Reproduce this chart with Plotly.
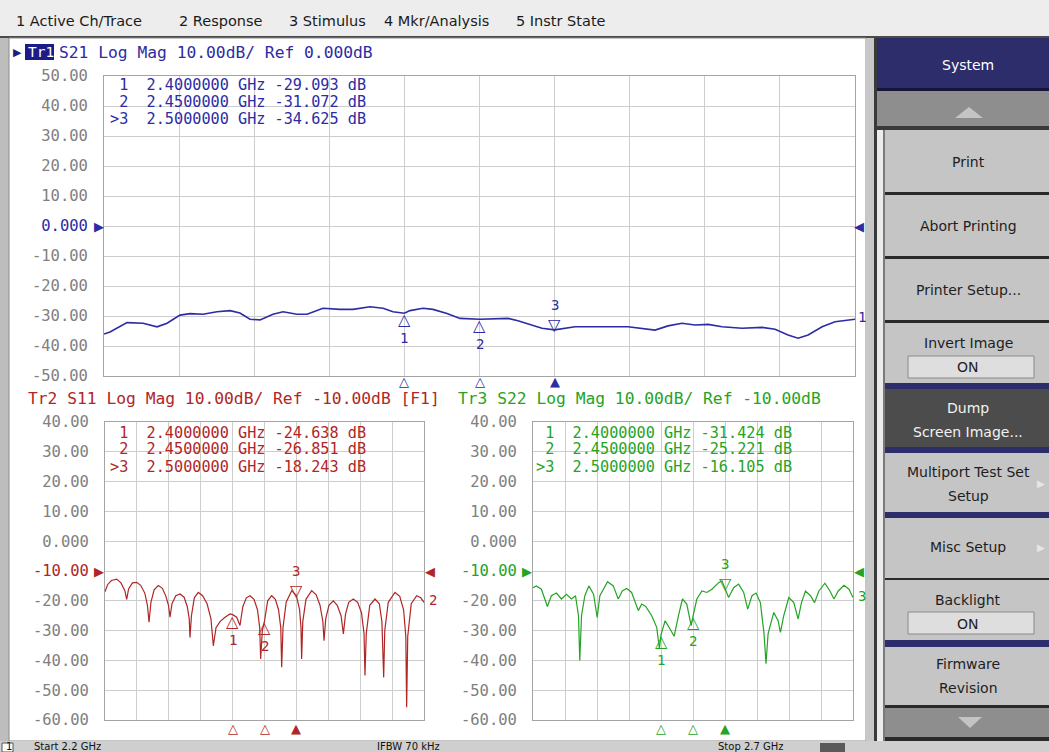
import plotly.graph_objects as go

# ---------------- data ----------------
start_ghz, stop_ghz, div_ghz = 2.2, 2.7, 0.05

freq_s21 = [2.2000, 2.2040, 2.2153, 2.2260, 2.2353, 2.2420, 2.2506, 2.2573, 2.2659, 2.2752,
            2.2839, 2.2905, 2.2972, 2.3039, 2.3125, 2.3192, 2.3285, 2.3352, 2.3458, 2.3571,
            2.3658, 2.3771, 2.3858, 2.3924, 2.4000, 2.4037, 2.4124, 2.4190, 2.4284, 2.4370,
            2.4500, 2.4690, 2.4756, 2.4916, 2.5000, 2.5136, 2.5489, 2.5582, 2.5669, 2.5755,
            2.5848, 2.5935, 2.6022, 2.6115, 2.6248, 2.6381, 2.6468, 2.6554, 2.6621, 2.6688,
            2.6781, 2.6867, 2.7000]
s21_db = [-36.0, -35.3, -32.2, -32.4, -33.6, -32.4, -29.7, -29.2, -29.4, -28.6,
          -28.2, -29.0, -31.1, -31.3, -29.4, -28.6, -29.4, -29.4, -27.4, -27.8,
          -27.8, -26.9, -27.4, -28.6, -29.093, -28.2, -27.4, -27.8, -29.2, -30.8,
          -31.072, -30.8, -31.6, -34.1, -34.625, -33.6, -33.6, -34.1, -34.7, -33.3,
          -32.4, -33.0, -32.8, -33.6, -34.1, -33.8, -34.4, -36.3, -37.4, -36.3,
          -33.6, -31.9, -31.1]

# S11 (GHz, dB)
s11_points = [
    (2.2000, -17.0), (2.2040, -14.6), (2.2100, -13.2), (2.2183, -12.7), (2.2250, -14.0),
    (2.2310, -16.5), (2.2340, -19.5), (2.2370, -16.0), (2.2430, -14.0), (2.2496, -13.8),
    (2.2560, -14.8), (2.2625, -17.5), (2.2665, -21.5), (2.2690, -27.2), (2.2720, -20.5),
    (2.2770, -16.3), (2.2836, -14.9), (2.2900, -15.8), (2.2955, -18.5), (2.2995, -21.5),
    (2.3019, -25.5), (2.3050, -21.0), (2.3110, -18.3), (2.3176, -17.7), (2.3240, -18.8),
    (2.3290, -22.0), (2.3320, -26.0), (2.3332, -32.3), (2.3355, -25.0), (2.3400, -19.0),
    (2.3463, -17.2), (2.3530, -18.3), (2.3600, -21.0), (2.3660, -26.0), (2.3698, -35.1),
    (2.3740, -29.0), (2.3803, -27.0), (2.3881, -25.5), (2.3959, -24.4), (2.4000, -24.638),
    (2.4064, -25.5), (2.4116, -28.3), (2.4160, -22.0), (2.4215, -19.0), (2.4273, -18.3),
    (2.4335, -19.5), (2.4390, -23.0), (2.4425, -29.0), (2.4440, -39.5), (2.4466, -30.0),
    (2.4500, -26.851), (2.4550, -20.0), (2.4612, -18.3), (2.4670, -19.5), (2.4720, -23.0),
    (2.4755, -29.0), (2.4769, -42.3), (2.4790, -29.0), (2.4840, -20.5), (2.4926, -16.6),
    (2.5000, -18.243), (2.5050, -23.0), (2.5072, -29.0), (2.5082, -39.5), (2.5100, -27.0),
    (2.5150, -19.5), (2.5239, -16.6), (2.5310, -18.0), (2.5370, -21.5), (2.5415, -27.0),
    (2.5433, -33.4), (2.5460, -26.0), (2.5510, -21.5), (2.5579, -20.0), (2.5640, -21.5),
    (2.5700, -25.0), (2.5736, -31.1), (2.5770, -24.5), (2.5820, -20.5), (2.5892, -19.4),
    (2.5960, -20.5), (2.6020, -24.0), (2.6060, -31.0), (2.6075, -45.1), (2.6095, -31.0),
    (2.6150, -21.5), (2.6232, -19.4), (2.6300, -21.0), (2.6340, -27.0), (2.6368, -45.7),
    (2.6385, -30.0), (2.6440, -20.5), (2.6545, -17.2), (2.6620, -18.5), (2.6680, -23.0),
    (2.6715, -32.0), (2.6728, -55.7), (2.6745, -32.0), (2.6800, -21.0), (2.6885, -18.3),
    (2.6950, -19.0), (2.7000, -20.5),
]
freq_s11 = [p[0] for p in s11_points]
s11_db = [p[1] for p in s11_points]

freq_s22 = [2.2000, 2.2052, 2.2131, 2.2225, 2.2287, 2.2366, 2.2444, 2.2522, 2.2601, 2.2664,
            2.2711, 2.2731, 2.2758, 2.2810, 2.2873, 2.2946, 2.3003, 2.3045, 2.3165, 2.3254,
            2.3332, 2.3395, 2.3463, 2.3541, 2.3646, 2.3698, 2.3761, 2.3855, 2.3933, 2.3975,
            2.4000, 2.4064, 2.4126, 2.4205, 2.4273, 2.4335, 2.4403, 2.4471, 2.4500, 2.4560,
            2.4639, 2.4717, 2.4795, 2.4900, 2.4952, 2.5000, 2.5056, 2.5135, 2.5213, 2.5292,
            2.5354, 2.5422, 2.5485, 2.5553, 2.5610, 2.5641, 2.5673, 2.5762, 2.5830, 2.5866,
            2.5918, 2.5997, 2.6075, 2.6143, 2.6195, 2.6258, 2.6336, 2.6399, 2.6467, 2.6561,
            2.6640, 2.6702, 2.6770, 2.6859, 2.6937, 2.7000]
s22_db = [-15.6, -15.0, -16.1, -21.9, -18.3, -17.4, -19.4, -17.8, -19.4, -18.3,
          -25.0, -40.0, -25.0, -18.3, -15.0, -17.8, -25.6, -18.3, -13.6, -15.0,
          -19.4, -16.7, -15.9, -17.2, -23.3, -21.1, -21.9, -25.0, -28.9, -36.1,
          -31.424, -26.7, -28.9, -31.9, -25.0, -19.4, -21.1, -28.3, -25.221, -19.4,
          -16.7, -17.2, -16.1, -13.9, -13.3, -16.105, -18.9, -15.6, -14.4, -17.2,
          -22.8, -18.3, -17.4, -20.6, -31.1, -41.1, -31.1, -23.9, -26.7, -30.6,
          -25.0, -18.9, -20.6, -26.1, -20.6, -16.7, -18.3, -20.6, -16.7, -14.1,
          -16.7, -19.4, -16.7, -14.8, -16.1, -18.9]

marker_ghz = [2.40, 2.45, 2.50]
s21_marker_db = [-29.093, -31.072, -34.625]
s11_marker_db = [-24.638, -26.851, -18.243]
s22_marker_db = [-31.424, -25.221, -16.105]

top_tick_vals = [50, 40, 30, 20, 10, 0, -10, -20, -30, -40, -50]
top_tick_text = ["50.00", "40.00", "30.00", "20.00", "10.00", "0.000",
                 "-10.00", "-20.00", "-30.00", "-40.00", "-50.00"]
bot_tick_vals = [40, 30, 20, 10, 0, -10, -20, -30, -40, -50, -60]
bot_tick_text = ["40.00", "30.00", "20.00", "10.00", "0.000", "-10.00",
                 "-20.00", "-30.00", "-40.00", "-50.00", "-60.00"]
ref_top, ref_bot = 0, -10

menu_items = ["1 Active Ch/Trace", "2 Response", "3 Stimulus", "4 Mkr/Analysis", "5 Instr State"]
softkey_labels = ["System", "Print", "Abort Printing", "Printer Setup...", "Invert Image", "ON",
                  "Dump", "Screen Image...", "Multiport Test Set", "Setup", "Misc Setup",
                  "Backlight", "ON", "Firmware", "Revision"]
title_tr1 = "S21 Log Mag 10.00dB/ Ref 0.000dB"
title_tr2 = "Tr2 S11 Log Mag 10.00dB/ Ref -10.00dB [F1]"
title_tr3 = "Tr3 S22 Log Mag 10.00dB/ Ref -10.00dB"
status_items = ["1", "Start 2.2 GHz", "IFBW 70 kHz", "Stop 2.7 GHz"]

# ---------------- styling / layout helpers ----------------
W, H = 1049, 752
def X(p): return p / W
def Y(p): return 1 - p / H

MONO = "DejaVu Sans Mono"
SANS = "DejaVu Sans"
BLUE = "#2c2ca4"
RED = "#b02626"
GREEN = "#25a325"
GRID = "#cdcdcd"
TICKC = "#808080"
NAVY = "#2d2d6c"

shapes, anns = [], []

def rect(x0, y0, x1, y1, fill, lw=0, lc=None):
    shapes.append(dict(type="rect", xref="paper", yref="paper", x0=X(x0), x1=X(x1),
                       y0=Y(y1), y1=Y(y0), fillcolor=fill,
                       line=dict(width=lw, color=lc or fill), layer="below"))

def tri(pts, fill):
    p = "M " + " L ".join(f"{X(a):.5f},{Y(b):.5f}" for a, b in pts) + " Z"
    shapes.append(dict(type="path", xref="paper", yref="paper", path=p, fillcolor=fill,
                       line=dict(width=0), layer="below"))

def ann(text, x, y, size=15.5, color="#000", family=MONO, xanchor="left", yanchor="middle",
        xref="paper", yref="paper", **kw):
    xx = X(x) if xref == "paper" else x
    yy = Y(y) if yref == "paper" else y
    anns.append(dict(text=text, x=xx, y=yy, xref=xref, yref=yref, showarrow=False,
                     xanchor=xanchor, yanchor=yanchor,
                     font=dict(family=family, size=size, color=color), **kw))

# ---------------- chrome ----------------
rect(0, 0, W, 37, "#ededed")
rect(0, 36, W, 38, "#4a4a4a")
rect(0, 38, 9, 741, "#bdbdbd")
rect(9, 38, 866, 741, "#ffffff", 1, "#8a8a8a")
rect(866, 38, W, 741, "#c8c8c8")
rect(874, 38, 877, 741, "#3a3a3a")
rect(877, 130, 885, 741, "#ececec")
rect(883, 130, 885, 741, "#7a7a7a")
rect(0, 741, W, H, "#cfcfcf")

menu_x = [14, 177, 287, 382, 514]
for t, mx in zip(menu_items, menu_x):
    ann(t, mx, 21, size=14.5, color="#1a1a1a", family=SANS)

# softkey panel
rect(877, 38, W, 88, NAVY)
rect(877, 88, W, 91, "#16163a")
rect(877, 91, W, 126, "#8e8e8e")
tri([(955, 118), (983, 118), (969, 107)], "#c4c4c4")
rect(877, 126, W, 130, "#3a3a3a")
btns = [(130, 192, "#c5c5c5"), (195, 256, "#c5c5c5"), (259, 320, "#c5c5c5"),
        (323, 383, "#c5c5c5"), (389, 447, "#4c4c4c"), (453, 512, "#c5c5c5"),
        (518, 578, "#c5c5c5"), (580, 640, "#c5c5c5"), (647, 705, "#c5c5c5")]
seps = [(192, 195, "#2a2a2a"), (256, 259, "#2a2a2a"), (320, 323, "#2a2a2a"),
        (383, 389, NAVY), (447, 453, NAVY), (512, 518, NAVY), (578, 580, "#2a2a2a"),
        (640, 647, NAVY), (705, 708, "#2a2a2a"), (737, 741, "#2a2a2a")]
for a, b, c in btns:
    rect(885, a, W, b, c)
for a, b, c in seps:
    rect(885, a, W, b, c)
rect(885, 708, W, 737, "#8e8e8e")
tri([(958, 717), (982, 717), (970, 728)], "#c4c4c4")
rect(908, 356, 1034, 378, "#dedede", 1, "#8a8a8a")
rect(908, 612, 1034, 634, "#dedede", 1, "#8a8a8a")

sk_y = [65, 162, 226, 290, 343, 367, 408, 432, 472, 496, 547, 600, 624, 664, 688]
sk_c = ["#ffffff", "#1e1e1e", "#1e1e1e", "#1e1e1e", "#1e1e1e", "#1e1e1e", "#f2f2f2", "#f2f2f2",
        "#1e1e1e", "#1e1e1e", "#1e1e1e", "#1e1e1e", "#1e1e1e", "#1e1e1e", "#1e1e1e"]
for t, yy, c in zip(softkey_labels, sk_y, sk_c):
    ann(t, 968, yy, size=14, color=c, family=SANS, xanchor="center")
ann("▶", 1035, 484, size=10, color="#e6e6e6", family=SANS, xanchor="left")
ann("▶", 1035, 547, size=10, color="#e6e6e6", family=SANS, xanchor="left")

# status bar
rect(2, 743, 13, H, "#ffffff", 1, "#555555")
rect(820, 743, 845, H, "#5a5a5a")
st_x = [4, 32, 375, 716]
for t, sx in zip(status_items, st_x):
    ann(t, sx, 746.5, size=10, color="#111111", family=SANS, height=11)

# trace titles
ann("▶", 17, 52, size=11, color="#1c1c88", family=SANS, xanchor="center")
rect(25, 44, 54, 60, "#1c1c88")
ann("Tr1", 26, 52, size=14.5, color="#ffffff")
ann(title_tr1, 57, 52, size=16.3, color=BLUE)
ann(title_tr2, 26, 398, size=16.3, color=RED)
ann(title_tr3, 456, 398, size=16.3, color=GREEN)

# ---------------- traces ----------------
fig = go.Figure()
fig.add_trace(go.Scatter(x=freq_s21, y=s21_db, xaxis="x", yaxis="y", mode="lines",
                         line=dict(color=BLUE, width=1.6), hoverinfo="skip", showlegend=False))
fig.add_trace(go.Scatter(x=freq_s11, y=s11_db, xaxis="x2", yaxis="y2", mode="lines",
                         line=dict(color=RED, width=1.2), hoverinfo="skip", showlegend=False))
fig.add_trace(go.Scatter(x=freq_s22, y=s22_db, xaxis="x3", yaxis="y3", mode="lines",
                         line=dict(color=GREEN, width=1.2), hoverinfo="skip", showlegend=False))

def ticktext(texts, vals, ref, color):
    return [f"<span style='color:{color}'>{t}</span>" if v == ref else t
            for t, v in zip(texts, vals)]

def xax(x0, x1, anchor):
    return dict(domain=[X(x0), X(x1)], range=[start_ghz, stop_ghz], tick0=start_ghz,
                dtick=div_ghz, showgrid=True, gridcolor=GRID, gridwidth=1,
                showticklabels=False, ticks="", zeroline=False, showline=True, mirror=True,
                linecolor="#a4a4a4", linewidth=1, anchor=anchor, fixedrange=True,
                automargin=False)

def yax(y0, y1, vals, texts, anchor):
    return dict(domain=[Y(y1), Y(y0)], range=[vals[-1], vals[0]], tickvals=vals,
                ticktext=texts, showgrid=True, gridcolor=GRID, gridwidth=1, zeroline=False,
                showline=True, mirror=True, linecolor="#a4a4a4", linewidth=1, ticks="",
                tickfont=dict(family=MONO, size=15.5, color=TICKC), ticklabelstandoff=12,
                anchor=anchor, fixedrange=True, automargin=False)

layout_axes = {
    "xaxis": xax(104, 855, "y"),
    "yaxis": yax(76, 376, top_tick_vals, ticktext(top_tick_text, top_tick_vals, ref_top, BLUE), "x"),
    "xaxis2": xax(105, 424, "y2"),
    "yaxis2": yax(422, 720, bot_tick_vals, ticktext(bot_tick_text, bot_tick_vals, ref_bot, RED), "x2"),
    "xaxis3": xax(533, 853, "y3"),
    "yaxis3": yax(422, 720, bot_tick_vals, ticktext(bot_tick_text, bot_tick_vals, ref_bot, GREEN), "x3"),
}

# ---------------- per-channel annotations ----------------
channels = [
    ("x", "y", BLUE, s21_marker_db, ref_top, s21_db[-1], "1", 99, 859, 108, [85, 102, 119], 381),
    ("x2", "y2", RED, s11_marker_db, ref_bot, s11_db[-1], "2", 99, 430, 108, [432, 449, 466], 728),
    ("x3", "y3", GREEN, s22_marker_db, ref_bot, s22_db[-1], "3", 527, 859, 534, [432, 449, 466], 728),
]
for xa, ya, col, mvals, ref, endv, lab, lpx, rpx, rdx, rows, bpx in channels:
    ann("▶", lpx, ref, size=13, color=col, family=SANS, xanchor="center", yref=ya)
    ann("◀", rpx, ref, size=13, color=col, family=SANS, xanchor="center", yref=ya)
    ann(lab, rpx - 3, endv, size=14, color=col, xanchor="left", yref=ya, yshift=2)
    for i, (f, v) in enumerate(zip(marker_ghz, mvals)):
        n = str(i + 1)
        active = (i == 2)
        prefix = ">" if active else "\u00a0"
        ann(f"{prefix}{n}\u00a0\u00a0{f:.7f} GHz {v:.3f} dB", rdx, rows[i], size=15.2,
            color=col, height=15)
        if active:
            ann("▽", f, v, size=16, color=col, family=SANS, xanchor="center", yanchor="bottom",
                xref=xa, yref=ya, yshift=-4, height=16)
            ann(n, f, v, size=14, color=col, xanchor="center", xref=xa, yref=ya, yshift=25)
            ann("▲", f, bpx, size=13, color=col, family=SANS, xanchor="center", xref=xa)
        else:
            ann("△", f, v, size=16, color=col, family=SANS, xanchor="center", yanchor="top",
                xref=xa, yref=ya, yshift=4, height=16)
            ann(n, f, v, size=14, color=col, xanchor="center", xref=xa, yref=ya, yshift=-25)
            ann("△", f, bpx, size=13, color=col, family=SANS, xanchor="center", xref=xa)

fig.update_layout(
    width=W, height=H,
    margin=dict(l=0, r=0, t=0, b=0, pad=0, autoexpand=False),
    paper_bgcolor="#c8c8c8", plot_bgcolor="#ffffff",
    shapes=shapes, annotations=anns, showlegend=False, **layout_axes,
)

fig.write_html("out.html", config={"displayModeBar": False},
               post_script="document.body.style.margin='0';document.body.style.overflow='hidden';")
